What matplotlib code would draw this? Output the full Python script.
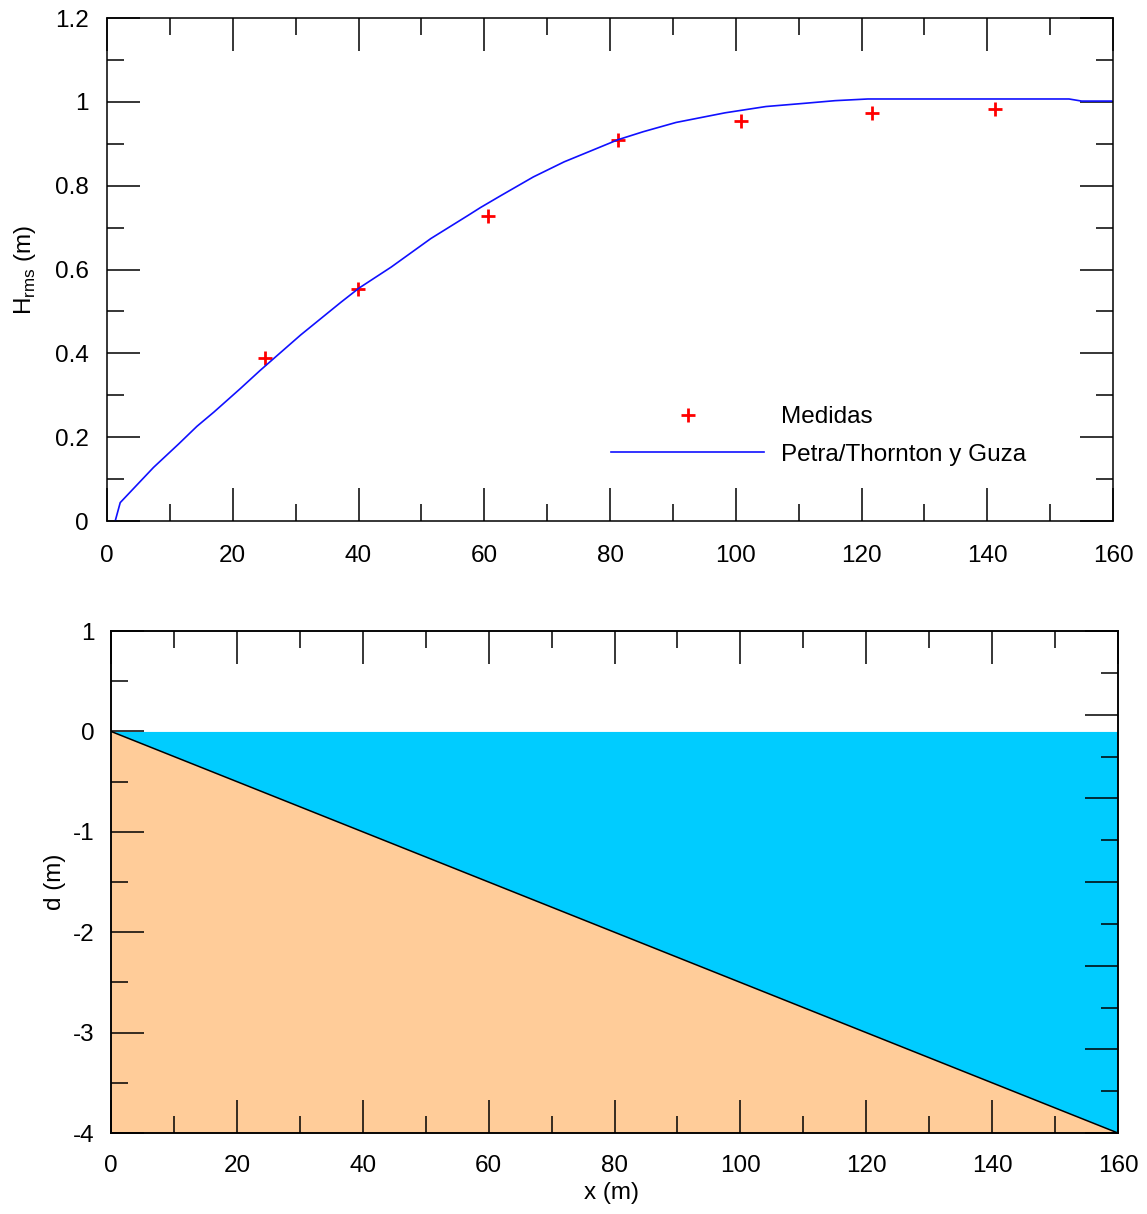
import numpy as np
import matplotlib
matplotlib.use("Agg")
import matplotlib.pyplot as plt
from matplotlib.ticker import MultipleLocator

plt.rcParams['font.family'] = ['Liberation Sans', 'DejaVu Sans']
plt.rcParams['mathtext.fontset'] = 'custom'
plt.rcParams['mathtext.rm'] = 'Liberation Sans'
plt.rcParams['font.size'] = 17.5
plt.rcParams['axes.unicode_minus'] = False

# measured wave height
x_med = [25.1, 39.9, 60.6, 81.3, 100.8, 121.7, 141.2]
h_med = [0.389, 0.553, 0.728, 0.909, 0.954, 0.973, 0.983]

# model (Petra / Thornton y Guza)
x_mod = [1.3, 2.1, 7.4, 11.4, 14.3, 17.0, 21.2, 24.4, 30.8, 37.2, 40.1, 45.2,
         51.5, 57.4, 59.4, 62.7, 67.8, 72.7, 76.6, 81.3, 85.3, 90.5, 98.3,
         104.8, 111.2, 115.8, 121.0, 153.0, 155.0, 159.8]
h_mod = [0.0, 0.044, 0.128, 0.184, 0.226, 0.26, 0.316, 0.36, 0.444, 0.522, 0.556, 0.606,
         0.674, 0.729, 0.748, 0.777, 0.821, 0.857, 0.881, 0.910, 0.929, 0.951, 0.974,
         0.989, 0.997, 1.003, 1.007, 1.007, 1.002, 1.002]

# bathymetry
x_bed = [0, 20, 40, 60, 80, 100, 120, 140, 160]
d_bed = [0.0, -0.5, -1.0, -1.5, -2.0, -2.5, -3.0, -3.5, -4.0]

LW = 1.1

def style_axes(ax, xpad, ypad):
    for s in ax.spines.values():
        s.set_linewidth(LW)
    ax.tick_params(which='both', direction='in', width=LW, top=True, color='black')
    ax.tick_params(which='major', length=24)
    ax.tick_params(which='minor', length=12)
    ax.tick_params(axis='x', which='major', pad=xpad)
    ax.tick_params(axis='y', which='major', pad=ypad)

fig = plt.figure(figsize=(11.47, 12.14), dpi=100)

# ---- top panel
ax1 = fig.add_axes([0.0933, 0.5708, 0.8771, 0.4143])
ax1.plot(x_med, h_med, linestyle='none', marker='+', color='red', ms=10, mew=2.0,
         label='Medidas')
ax1.plot(x_mod, h_mod, color='#1010ff', lw=1.2, label='Petra/Thornton y Guza')
ax1.set_xlim(0, 160)
ax1.set_ylim(0, 1.2)
ax1.xaxis.set_major_locator(MultipleLocator(20))
ax1.xaxis.set_minor_locator(MultipleLocator(10))
ax1.yaxis.set_major_locator(MultipleLocator(0.2))
ax1.yaxis.set_minor_locator(MultipleLocator(0.1))
ax1.yaxis.set_major_formatter(lambda v, p: f'{v:g}')
style_axes(ax1, 17, 13)
ax1.tick_params(which='both', right=True)
ax1.set_ylabel(r'H$_{\rm rms}$ (m)', va='center')
ax1.yaxis.set_label_coords(-0.0815, 0.5)
ax1.legend(loc='center left', bbox_to_anchor=(0.501, 0.169), frameon=False,
           handlelength=6.3, handletextpad=0.7, borderpad=0, borderaxespad=0,
           labelspacing=0.65, fontsize=17.5)

# ---- bottom panel
ax2 = fig.add_axes([0.0968, 0.0667, 0.8779, 0.4135])
ax2.fill_between(x_bed, d_bed, 0, color='#00CCFF', lw=0)
ax2.fill_between(x_bed, d_bed, -4, color='#FFCC99', lw=0)
ax2.plot(x_bed, d_bed, color='black', lw=1.1)
ax2.set_xlim(0, 160)
ax2.set_ylim(-4, 1)
ax2.xaxis.set_major_locator(MultipleLocator(20))
ax2.xaxis.set_minor_locator(MultipleLocator(10))
ax2.yaxis.set_major_locator(MultipleLocator(1))
ax2.yaxis.set_minor_locator(MultipleLocator(0.5))
style_axes(ax2, 16, 12)
ax2.tick_params(which='both', right=False)
ax2.set_ylabel('d (m)', va='center')
ax2.yaxis.set_label_coords(-0.0556, 0.5)
ax2.set_xlabel('x (m)', va='center')
ax2.xaxis.set_label_coords(0.4975, -0.1195)

# right-hand axis of the lower panel has its own tick spacing
ax2r = ax2.twinx()
ax2r.set_ylim(0, 6)
ax2r.yaxis.set_major_locator(MultipleLocator(1))
ax2r.yaxis.set_minor_locator(MultipleLocator(0.5))
ax2r.tick_params(which='both', direction='in', width=LW, labelright=False)
ax2r.tick_params(which='major', length=24)
ax2r.tick_params(which='minor', length=12)
for s in ax2r.spines.values():
    s.set_linewidth(LW)

fig.savefig('out.png', dpi=100)
